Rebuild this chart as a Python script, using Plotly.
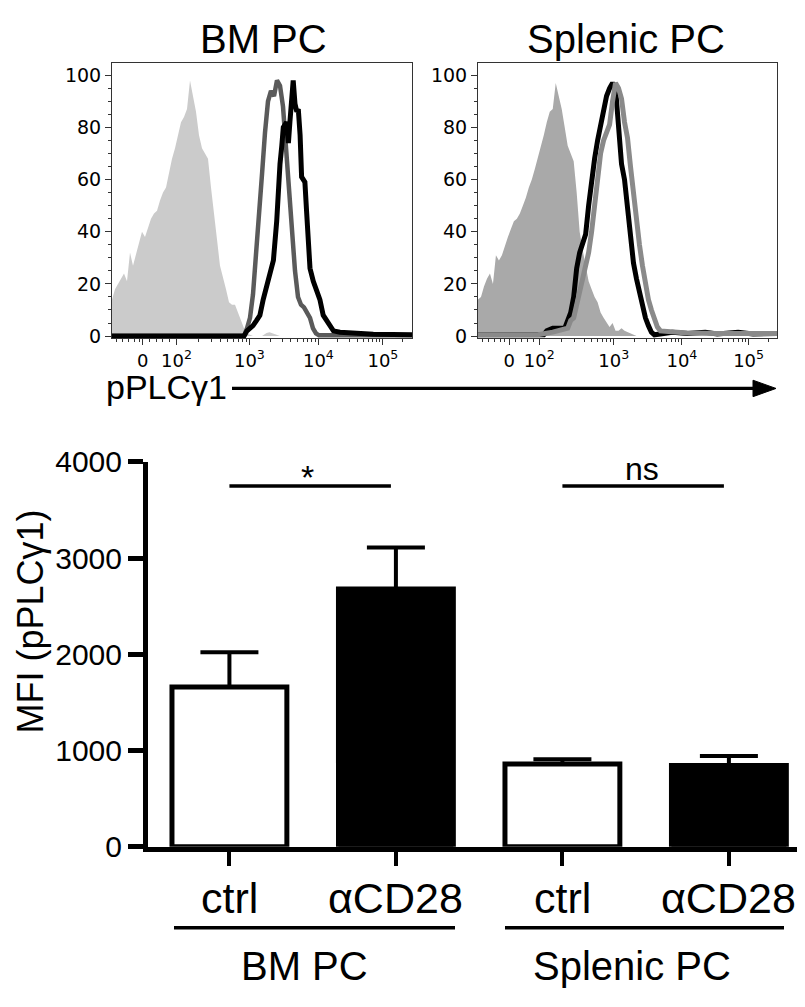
import numpy as np
import plotly.graph_objects as go

PAGE_W, PAGE_H = 805, 1007
OFF = 8  # page body margin
W, H = PAGE_W - 2 * OFF, PAGE_H - 2 * OFF


def px(x):
    return (x - OFF) / W


def py(y):
    return 1 - (y - OFF) / H


# ---------------- histogram data (x in display channel units 0-1000) -------------
bm_fill_x = [0, 10, 20, 30, 40, 50, 60, 70, 80, 90, 100, 110, 120, 130, 140, 150, 160, 170, 180, 190,
             200, 210, 220, 230, 240, 250, 260, 270, 280, 290, 300, 310, 320, 330, 340, 350, 360, 370,
             380, 390, 400, 410, 420, 430, 440, 450, 460, 470, 500, 515, 525, 540, 560, 1000]
bm_fill_y = [14, 18, 20, 22, 24, 21, 32, 27, 31, 35, 40, 38, 42, 45, 47, 48, 52, 55, 57, 63,
             68, 72, 77, 82, 84, 87, 98, 92, 86, 77, 72, 70, 68, 57, 46, 37, 27, 23,
             18, 13, 12, 12, 9, 6, 3, 1, 0.5, 0, 0, 1.2, 1.5, 0.8, 0, 0]

bm_ctrl_x = [0, 440, 450, 460, 470, 480, 490, 500, 510, 520, 530, 540, 550, 560, 570, 580, 590, 600,
             610, 620, 630, 640, 650, 660, 670, 680, 690, 1000]
bm_ctrl_y = [0, 0, 3, 7, 16, 30, 43, 62, 78, 90, 94, 92, 98, 96, 88, 72, 55, 40,
             25, 15, 12, 11, 9, 7, 3, 1, 0.3, 0.3]

bm_cd28_x = [0, 440, 450, 470, 482, 493, 504, 516, 527, 538, 549, 554, 560, 566, 571, 582, 588, 593,
             599, 604, 610, 616, 621, 627, 632, 643, 649, 654, 660, 671, 682, 693, 704, 716, 727, 738,
             760, 816, 871, 1000]
bm_cd28_y = [0, 0, 2, 4, 6, 8, 14, 19, 24, 29, 44, 59, 66, 73, 80, 82, 74, 82,
             95, 98, 89, 86, 87, 77, 61, 59, 47, 37, 26, 21, 17, 14, 8, 6, 3.5, 2,
             1.5, 1, 0.7, 0.5]

sp_fill_x = [0, 10, 20, 30, 40, 50, 60, 70, 80, 90, 100, 110, 120, 130, 140, 150, 160, 170, 180, 190,
             200, 210, 220, 230, 240, 250, 260, 270, 280, 290, 300, 310, 320, 330, 340, 350, 360, 370,
             380, 390, 400, 410, 420, 430, 440, 450, 460, 470, 480, 490, 500, 510, 520, 530, 1000]
sp_fill_y = [14, 15, 19, 22, 24, 20, 31, 29, 31, 35, 38, 41, 44, 45, 47, 50, 53, 57, 60, 64,
             68, 72, 77, 82, 86, 87, 97, 92, 87, 80, 73, 70, 67, 55, 40, 33, 27, 21,
             18, 15, 13, 9, 7, 5, 3.5, 5, 2, 2, 3, 2, 1.5, 1, 0.5, 0, 0]

sp_cd28_x = [0, 220, 230, 250, 290, 300, 310, 320, 330, 340, 350, 360, 370, 380, 390, 400, 410, 420,
             430, 440, 450, 460, 470, 480, 490, 500, 510, 520, 530, 540, 550, 560, 570, 580, 590,
             650, 700, 760, 800, 870, 920, 1000]
sp_cd28_y = [0.5, 0.5, 2, 3, 3, 6, 9, 15, 26, 32, 35, 39, 50, 60, 68, 75, 81, 87,
             92, 95, 97, 95, 81, 66, 60, 48, 36, 28, 22, 17, 11, 7, 4, 1.5, 0.5,
             1.5, 1, 1.5, 0.8, 1.5, 0.8, 1]

sp_ctrl_x = [0, 200, 250, 300, 310, 320, 330, 340, 350, 360, 370, 380, 390, 400, 410, 420, 430, 440,
             450, 460, 470, 480, 490, 500, 510, 520, 530, 540, 550, 560, 570, 580, 590, 600, 610,
             700, 800, 1000]
sp_ctrl_y = [0.5, 0.5, 1.5, 3, 6, 7, 12, 17, 21, 26, 32, 40, 49, 60, 70, 75, 78, 81,
             90, 97, 95, 91, 82, 76, 65, 54, 45, 35, 27, 20, 14, 10, 6, 3.5, 2,
             1.2, 1, 1]

hist_tick_text = ["0", "10<sup>2</sup>", "10<sup>3</sup>", "10<sup>4</sup>", "10<sup>5</sup>"]
bm_tick_pos = [102, 215, 458, 688, 903]
sp_tick_pos = [104, 205, 454, 682, 905]
pct_ticks = [0, 20, 40, 60, 80, 100]

# ---------------- bar data -------------
bar_labels = ["ctrl", "αCD28", "ctrl", "αCD28"]
bar_groups = ["BM PC", "Splenic PC"]
bar_mfi = [1660, 2680, 860, 843]
bar_sem = [360, 430, 50, 100]
bar_fill = ["white", "black", "white", "black"]
mfi_ticks = [0, 1000, 2000, 3000, 4000]

SANS = "Liberation Sans, Arial"
HFONT = "DejaVu Sans"


def minor_positions(pos):
    out = [15, 35, 55, 75, 90]
    zero, d2 = pos[0], pos[1]
    out += [zero + (d2 - zero) * f for f in (0.2, 0.4, 0.6, 0.8)]
    for i in range(1, 4):
        a, b = pos[i], pos[i + 1]
        out += [a + (b - a) * np.log10(m) for m in range(2, 10)]
    step = pos[4] - pos[3]
    out += [pos[4] + step * np.log10(m) for m in range(2, 10) if pos[4] + step * np.log10(m) < 1000]
    return [float(v) for v in out]


fig = go.Figure()

# left histogram
fig.add_trace(go.Scatter(x=bm_fill_x, y=bm_fill_y, mode="lines", fill="tozeroy",
                         fillcolor="#cbcbcb", line=dict(width=0, color="#cbcbcb"),
                         xaxis="x", yaxis="y", hoverinfo="skip"))
fig.add_trace(go.Scatter(x=bm_ctrl_x, y=bm_ctrl_y, mode="lines",
                         line=dict(width=4.5, color="#5a5a5a"), xaxis="x", yaxis="y"))
fig.add_trace(go.Scatter(x=bm_cd28_x, y=bm_cd28_y, mode="lines",
                         line=dict(width=5, color="black"), xaxis="x", yaxis="y"))
# right histogram
fig.add_trace(go.Scatter(x=sp_fill_x, y=sp_fill_y, mode="lines", fill="tozeroy",
                         fillcolor="#a9a9a9", line=dict(width=0, color="#a9a9a9"),
                         xaxis="x2", yaxis="y2", hoverinfo="skip"))
fig.add_trace(go.Scatter(x=sp_cd28_x, y=sp_cd28_y, mode="lines",
                         line=dict(width=5, color="black"), xaxis="x2", yaxis="y2"))
fig.add_trace(go.Scatter(x=sp_ctrl_x, y=sp_ctrl_y, mode="lines",
                         line=dict(width=5, color="#8a8a8a"), xaxis="x2", yaxis="y2"))

# bar chart
fig.add_trace(go.Bar(x=list(range(len(bar_labels))), y=bar_mfi, width=0.69,
                     marker=dict(color=bar_fill, line=dict(color="black", width=5)),
                     error_y=dict(type="data", symmetric=False, array=bar_sem,
                                  arrayminus=[0] * len(bar_sem), color="black",
                                  thickness=4, width=29),
                     xaxis="x3", yaxis="y3"))


def hist_x(domain, pos):
    return dict(domain=domain, range=[0, 1000], showline=True, mirror=True, linecolor="#333",
                linewidth=1, ticks="outside", ticklen=6, tickwidth=1, tickcolor="#333",
                tickmode="array", tickvals=pos, ticktext=hist_tick_text,
                tickfont=dict(family=HFONT, size=18, color="black"),
                minor=dict(tickmode="array", tickvals=minor_positions(pos), ticks="outside",
                           ticklen=3, tickwidth=1, tickcolor="#333"),
                showgrid=False, zeroline=False, fixedrange=True)


def hist_y(anchor):
    return dict(domain=[py(333), py(48)], range=[-0.8, 104.8], anchor=anchor, showline=True,
                mirror=True, linecolor="#333", linewidth=1, ticks="outside", ticklen=6,
                tickwidth=1, tickcolor="#333", tickmode="array", tickvals=pct_ticks,
                tickfont=dict(family=HFONT, size=19, color="black"),
                minor=dict(dtick=5, ticks="outside", ticklen=3, tickwidth=1, tickcolor="#333"),
                showgrid=False, zeroline=False, fixedrange=True)


fig.update_layout(
    width=W, height=H, margin=dict(l=0, r=0, t=0, b=0),
    paper_bgcolor="white", plot_bgcolor="white", showlegend=False,
    xaxis=dict(hist_x([px(112), px(412)], bm_tick_pos), anchor="y"),
    yaxis=hist_y("x"),
    xaxis2=dict(hist_x([px(478), px(777)], sp_tick_pos), anchor="y2"),
    yaxis2=hist_y("x2"),
    xaxis3=dict(domain=[px(148), px(797)], range=[-0.489, 3.409], anchor="y3",
                showline=True, linecolor="black", linewidth=5, ticks="outside", ticklen=14,
                tickwidth=4, tickcolor="black", tickvals=[0, 1, 2, 3], showticklabels=False,
                showgrid=False, zeroline=False, fixedrange=True),
    yaxis3=dict(domain=[py(859), py(461)], range=[0, 4000], anchor="x3",
                showline=True, linecolor="black", linewidth=5, ticks="outside", ticklen=15,
                tickwidth=5, tickcolor="black", tickvals=mfi_ticks,
                tickfont=dict(family=SANS, size=30, color="black"),
                showgrid=False, zeroline=False, fixedrange=True),
)


def note(text, x, y, size, xref="paper", yref="paper", xanchor="center", angle=0):
    return dict(text=text, x=x, y=y, xref=xref, yref=yref, xanchor=xanchor, yanchor="middle",
                textangle=angle, showarrow=False, font=dict(family=SANS, size=size, color="black"))


ann = [
    note(bar_groups[0], px(264), py(24), 40),
    note(bar_groups[1], px(626), py(24), 40),
    note("pPLCγ1", px(104), py(384), 34, xanchor="left"),
    note("MFI (pPLCγ1)", px(30), py(626), 36, angle=-90),
]
for i, lab in enumerate(bar_labels):
    ann.append(note(lab, i, py(912), 43, xref="x3"))
ann.append(note(bar_groups[0], px(304), py(982), 40))
ann.append(note(bar_groups[1], px(632), py(982), 40))
ann.append(note("*", 0.47, 3840, 34, xref="x3", yref="y3"))
ann.append(note("ns", 2.48, 3930, 32, xref="x3", yref="y3"))
fig.update_layout(annotations=ann)

shapes = [
    dict(type="line", xref="x3", yref="y3", x0=0.0, x1=0.97, y0=3750, y1=3750,
         line=dict(color="black", width=3.5)),
    dict(type="line", xref="x3", yref="y3", x0=2.0, x1=2.97, y0=3750, y1=3750,
         line=dict(color="black", width=3.5)),
    dict(type="line", xref="paper", yref="paper", x0=px(174), x1=px(455), y0=py(943), y1=py(943),
         line=dict(color="black", width=3.5)),
    dict(type="line", xref="paper", yref="paper", x0=px(505), x1=px(784), y0=py(943), y1=py(943),
         line=dict(color="black", width=3.5)),
    # pPLCγ1 arrow
    dict(type="line", xref="paper", yref="paper", x0=px(232), x1=px(756), y0=py(385), y1=py(385),
         line=dict(color="black", width=3.3)),
    dict(type="path", xref="paper", yref="paper",
         path=f"M {px(753)} {py(376.5)} L {px(776)} {py(385)} L {px(753)} {py(393.5)} Z",
         fillcolor="black", line=dict(color="black", width=1)),
]
fig.update_layout(shapes=shapes)

fig.write_html("out.html")
